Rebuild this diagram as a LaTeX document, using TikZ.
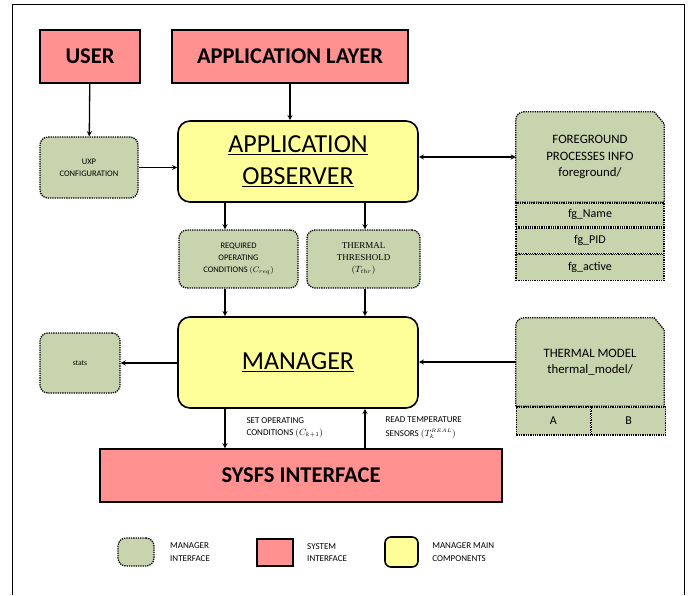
\documentclass[tikz,border=0pt]{standalone}
\usepackage{fontspec}
\setmainfont{Carlito}
\newfontfamily\serifbox{Liberation Serif}
\usepackage{tikz}
\usetikzlibrary{positioning, arrows, calc}
\definecolor{sysred}{RGB}{255,145,145}
\definecolor{ifgreen}{RGB}{200,212,174}
\definecolor{mainyellow}{RGB}{255,255,153}
\tikzset{
	>=stealth,
	x=1pt, y=1pt,
	sysbox/.style={draw, line width=1.4pt, fill=sysred, font=\bfseries\fontsize{22.5}{26}\selectfont},
	mainbox/.style={draw, line width=1.6pt, fill=mainyellow, rounded corners=12pt, align=center, font=\fontsize{26}{32}\selectfont},
	ifbox/.style={draw, densely dotted, line width=1.3pt, fill=ifgreen, rounded corners=8pt, align=center, font=\fontsize{8.5}{12}\selectfont},
	ifrow/.style={draw, densely dotted, line width=1.3pt, fill=ifgreen, font=\fontsize{12}{14}\selectfont},
	dirtext/.style={align=center, font=\fontsize{12.8}{16.5}\selectfont},
	note/.style={align=left, anchor=north west, font=\fontsize{9}{12.5}\selectfont},
	link/.style={->, line width=1.3pt},
}

\begin{document}
\begin{tikzpicture}
			\useasboundingbox (0,0) rectangle (699,-595);
			\draw[line width=0.8pt] (12,-595) -- (12,-4) -- (684,-4) -- (684,-595);
			
			\node[sysbox, minimum width=100, minimum height=53] (USER) at (90,-56.5) {USER};
			\node[sysbox, minimum width=236, minimum height=53] (APP) at (290,-56.5) {APPLICATION LAYER};
			\node[ifbox, minimum width=98, minimum height=61] (UXP) at (89,-167.5) {UXP\\CONFIGURATION};
			\node[mainbox, minimum width=240, minimum height=81] (OBS) at (298,-161.5) {\underline{APPLICATION}\\\underline{OBSERVER}};
			\node[ifbox, minimum width=119, minimum height=58] (REQ) at (238.5,-259) {REQUIRED\\OPERATING\\CONDITIONS $(C_{req})$};
			\node[ifbox, minimum width=113, minimum height=58, font=\serifbox\fontsize{9}{12}\selectfont] (THR) at (363.5,-259) {THERMAL\\THRESHOLD\\$(T_{thr})$};
			\node[mainbox, minimum width=240, minimum height=91] (MGR) at (298,-362.5) {\underline{MANAGER}};
			\node[ifbox, minimum width=80, minimum height=60, font=\fontsize{7.5}{9}\selectfont] (STATS) at (80,-363) {stats};
			\node[sysbox, minimum width=402, minimum height=53] (SYSFS) at (301,-475.5) {SYSFS INTERFACE};
			
			\node[minimum width=148, minimum height=90] (FG) at (590,-157) {};
			\draw[densely dotted, line width=1.3pt, fill=ifgreen] (FG.south west) -- ([yshift=-8pt]FG.north west) arc[start angle=180, end angle=90, radius=8pt] -- ([xshift=-10pt]FG.north east) -- ([yshift=-12pt]FG.north east) -- (FG.south east) -- cycle;
			\node[dirtext] (FGTXT) at (FG) {FOREGROUND\\PROCESSES INFO\\foreground/};
			\node[ifrow, minimum width=148, minimum height=24, below=0pt of FG] (FGNAME) {fg\_Name};
			\node[ifrow, minimum width=148, minimum height=25, below=0pt of FGNAME] (FGPID) {fg\_PID};
			\node[ifrow, minimum width=148, minimum height=26, below=0pt of FGPID] (FGACT) {fg\_active};
			
			\node[minimum width=148, minimum height=88] (THM) at (590,-362) {};
			\draw[densely dotted, line width=1.3pt, fill=ifgreen] (THM.south west) -- ([yshift=-8pt]THM.north west) arc[start angle=180, end angle=90, radius=8pt] -- ([xshift=-10pt]THM.north east) -- ([yshift=-12pt]THM.north east) -- (THM.south east) -- cycle;
			\node[dirtext] (THMTXT) at (THM) {THERMAL MODEL\\thermal\_model/};
			\node[ifrow, minimum width=74, minimum height=28, anchor=north west] (THA) at (THM.south west) {A};
			\node[ifrow, minimum width=74, minimum height=28, right=0pt of THA] (THB) {B};
			
			\coordinate (lane1) at (225,0);
			\coordinate (lane2) at (365,0);
			\draw[link] (USER) -- (UXP);
			\draw[link] (APP) -- (APP |- OBS.north);
			\draw[link] (UXP.east) -- (UXP.east -| OBS.west);
			\draw[<->, line width=1.3pt] (OBS.east |- FG.west) -- (FG.west);
			\draw[link] (OBS.south -| lane1) -- (REQ.north -| lane1);
			\draw[link] (OBS.south -| lane2) -- (THR.north -| lane2);
			\draw[link] (REQ.south -| lane1) -- (MGR.north -| lane1);
			\draw[link] (THR.south -| lane2) -- (MGR.north -| lane2);
			\draw[link] (MGR.west |- STATS.east) -- (STATS.east);
			\draw[link] (THM.west) -- (MGR.east |- THM.west);
			\draw[link] (MGR.south -| lane1) -- (SYSFS.north -| lane1);
			\draw[link] (SYSFS.north -| lane2) -- (MGR.south -| lane2);
			\node[note] (SETOP) at (243,-414) {SET OPERATING\\CONDITIONS $(C_{k+1})$};
			\node[note] (READT) at (382,-413) {READ TEMPERATURE\\[1.5pt]SENSORS $(T_k^{\scriptscriptstyle REAL})$};
			
			\node[ifbox, minimum width=36, minimum height=28] (LGREEN) at (136,-552) {};
			\node[note, anchor=west, right=12pt of LGREEN] (LGREENT) {MANAGER\\INTERFACE};
			\node[draw, line width=1.4pt, fill=sysred, minimum width=36, minimum height=27] (LRED) at (275,-552.5) {};
			\node[note, anchor=west, right=10pt of LRED] (LREDT) {SYSTEM\\INTERFACE};
			\node[draw, line width=1.6pt, fill=mainyellow, rounded corners=6pt, minimum width=33, minimum height=30] (LYEL) at (401.5,-552) {};
			\node[note, anchor=west, right=10pt of LYEL] (LYELT) {MANAGER MAIN\\COMPONENTS};
		\end{tikzpicture}
\end{document}
